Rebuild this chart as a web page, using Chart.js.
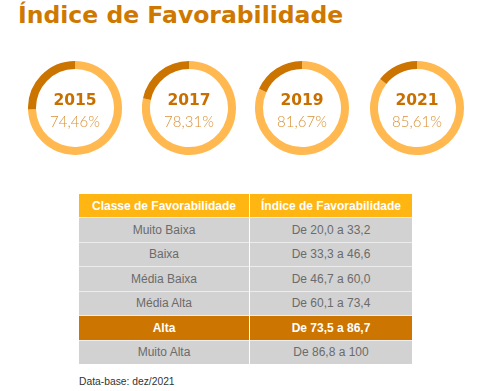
<!DOCTYPE html>
<html>
<head>
<meta charset="utf-8">
<script src="https://cdn.jsdelivr.net/npm/chart.js@4"></script>
<style>
  body { margin: 0; width: 484px; height: 391px; background: #fff; position: relative; overflow: hidden; font-family: "DejaVu Sans", sans-serif; }
  .title { position: absolute; left: 18px; top: 1px; font: bold 23.5px "DejaVu Sans"; color: #cf7800; }
  .ring { position: absolute; top: 61px; width: 94px; height: 94px; }
  .ring canvas { position: absolute; left: 0; top: 0; }
  .ring .year { position: absolute; left: 0; width: 94px; top: 30px; text-align: center; font: bold 15.5px "DejaVu Sans"; color: #c86f00; }
  .ring .pct { position: absolute; left: 0; width: 94px; top: 51px; text-align: center; font: 300 15px "Lato", "Roboto", sans-serif; color: #d99034; }
  table { position: absolute; left: 79px; top: 194px; border-collapse: collapse; width: 333px; }
  th { background: #ffb612; color: #fff; font: bold 12px "Liberation Sans", Arial, sans-serif; height: 23px; padding: 0; border-left: 1px solid #fff; }
  td { background: #d2d2d2; color: #6b6b6b; font: 12px "Liberation Sans", Arial, sans-serif; height: 23.5px; padding: 0; text-align: center; border-top: 1px solid #ececec; border-left: 1px solid #fff; }
  th:first-child, td:first-child { border-left: none; width: 170px; }
  tr.alta td { background: #cc7500; color: #fff; font-weight: bold; }
  .nota { position: absolute; left: 79px; top: 376px; font: 10.3px "Liberation Sans", Arial, sans-serif; color: #333; }
</style>
</head>
<body>
<div class="title">Índice de Favorabilidade</div>
<div id="rings"></div>
<table id="tabela"></table>
<div class="nota">Data-base: dez/2021</div>

<script>
const anos = ["2015", "2017", "2019", "2021"];
const favorabilidade = [74.46, 78.31, 81.67, 85.61];
const classes = ["Muito Baixa", "Baixa", "Média Baixa", "Média Alta", "Alta", "Muito Alta"];
const faixas = ["De 20,0 a 33,2", "De 33,3 a 46,6", "De 46,7 a 60,0", "De 60,1 a 73,4", "De 73,5 a 86,7", "De 86,8 a 100"];
const classeAtual = "Alta";

const centros = [75, 189, 302, 417];
const rings = document.getElementById("rings");

anos.forEach((ano, i) => {
  const box = document.createElement("div");
  box.className = "ring";
  box.style.left = (centros[i] - 47) + "px";
  box.innerHTML = `
    <canvas width="94" height="94"></canvas>
    <div class="year">${ano}</div>
    <div class="pct">${favorabilidade[i].toFixed(2).replace(".", ",")}%</div>
  `;
  rings.append(box);

  new Chart(box.querySelector("canvas"), {
    type: "doughnut",
    data: {
      labels: ["Favorável", "Restante"],
      datasets: [
        {
          data: [favorabilidade[i], 100 - favorabilidade[i]],
          backgroundColor: ["#ffb950", "#cc7400"],
          borderWidth: 0,
        },
      ],
    },
    options: {
      responsive: false,
      animation: false,
      events: [],
      cutout: "83%",
      plugins: { legend: { display: false }, tooltip: { enabled: false } },
    },
  });
});

// tabela de classes
const tabela = document.getElementById("tabela");
tabela.innerHTML = `<tr><th>Classe de Favorabilidade</th><th>Índice de Favorabilidade</th></tr>`;
classes.forEach((c, i) => {
  const tr = document.createElement("tr");
  if (c === classeAtual) tr.className = "alta";
  tr.innerHTML = `<td>${c}</td><td>${faixas[i]}</td>`;
  tabela.append(tr);
});
</script>
</body>
</html>
